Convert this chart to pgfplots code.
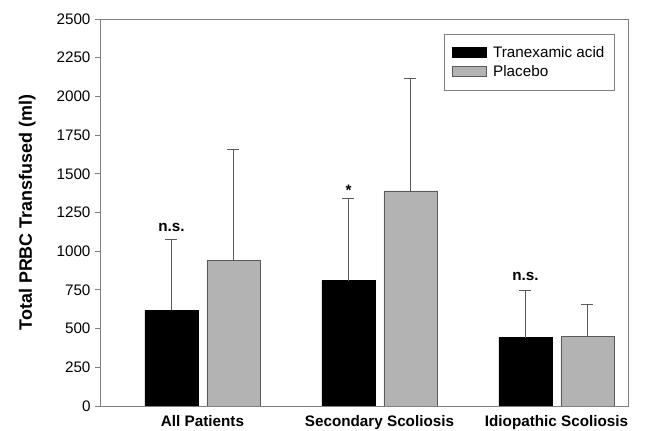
\documentclass[border=0pt]{standalone}
\usepackage{pgfplots}
\pgfplotsset{compat=1.18}
\usepackage{fontspec}
\setmainfont{Liberation Sans}
\definecolor{placebo}{HTML}{B3B3B3}
\definecolor{axisgray}{HTML}{808080}
\definecolor{errgray}{HTML}{5A5A5A}
\begin{document}
\begin{tikzpicture}
\path[use as bounding box] (-100bp,-25bp) rectangle (558bp,406bp);
\begin{axis}[
  scale only axis,
  width=528bp, height=387bp,
  at={(0,0)}, anchor=south west,
  xmin=-0.579, xmax=2.404,
  ymin=0, ymax=2500,
  ytick distance=250,
  ytick pos=left,
  xtick={0,1,2},
  xticklabels={All Patients, Secondary Scoliosis, Idiopathic Scoliosis},
  x tick label style={font=\fontsize{15.3}{18}\selectfont\bfseries, yshift=-1bp},
  y tick label style={font=\fontsize{15.3}{18}\selectfont},
  /pgf/number format/assume math mode=true,
  /pgf/number format/1000 sep={},
  xtick style={draw=none},
  ytick style={axisgray, line width=0.8bp},
  tick align=outside,
  major tick length=5bp,
  yticklabel style={xshift=-1bp},
  axis line style={axisgray, line width=0.9bp},
  ylabel={Total PRBC Transfused (ml)},
  ylabel style={font=\fontsize{18}{21}\selectfont\bfseries, at={(axis description cs:-0.138,0.5)}, anchor=center},
  ybar=9bp, bar width=53bp,
  legend style={at={(axis description cs:0.975,0.961)}, anchor=north east,
    draw=axisgray, line width=0.8bp, font=\fontsize{15.3}{18}\selectfont,
    inner xsep=8bp, inner ysep=10bp, row sep=2.5bp, cells={anchor=west}},
  legend image code/.code={\draw[#1] (0bp,-5bp) rectangle (34bp,5bp); \path (38bp,0);},
]
\addplot[fill=black, draw=black, line width=0.8bp,
  error bars/.cd, y dir=plus, y explicit,
  error bar style={errgray, line width=0.9bp},
  error mark options={rotate=90, mark size=6bp, errgray, line width=0.9bp}]
  coordinates {(0,618) +- (0,456) (1,809) +- (0,533) (2,441) +- (0,308)};
\addplot[fill=placebo, draw=errgray, line width=0.8bp,
  error bars/.cd, y dir=plus, y explicit,
  error bar style={errgray, line width=0.9bp},
  error mark options={rotate=90, mark size=6bp, errgray, line width=0.9bp}]
  coordinates {(0,941) +- (0,719) (1,1389) +- (0,725) (2,447) +- (0,210)};
\legend{Tranexamic acid, Placebo}
\node[anchor=base, inner sep=0, font=\fontsize{15.3}{18}\selectfont\bfseries, xshift=-31bp, yshift=8bp] at (axis cs:0,1074) {n.s.};
\node[anchor=base, inner sep=0, font=\fontsize{15.3}{18}\selectfont\bfseries, xshift=-31bp, yshift=3bp] at (axis cs:1,1342) {*};
\node[anchor=base, inner sep=0, font=\fontsize{15.3}{18}\selectfont\bfseries, xshift=-31bp, yshift=10bp] at (axis cs:2,749) {n.s.};
\end{axis}
\end{tikzpicture}
\end{document}
